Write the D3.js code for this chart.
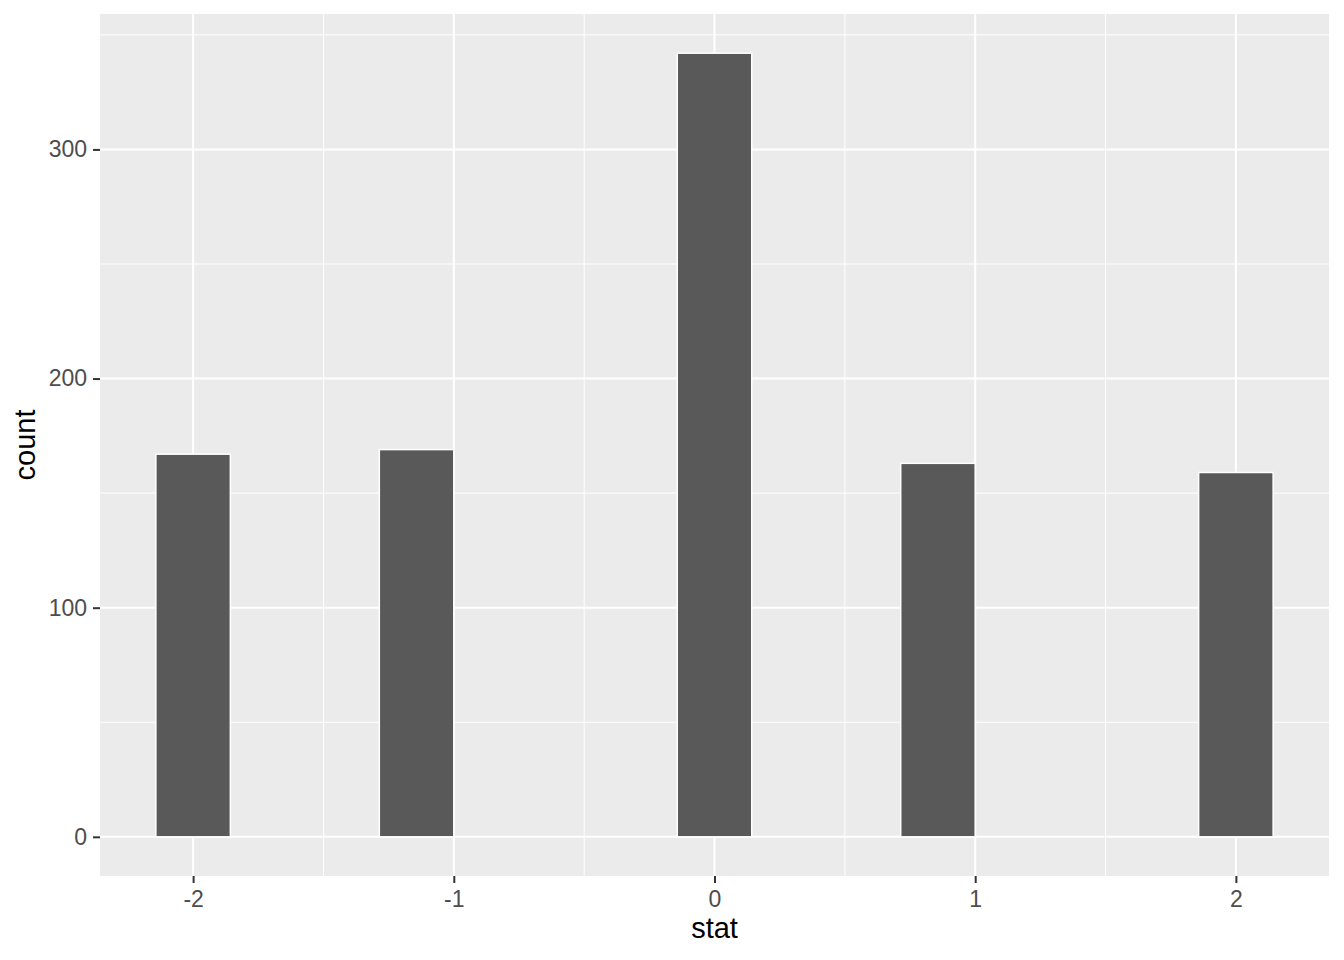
<!DOCTYPE html>
<html>
<head>
<meta charset="utf-8">
<script src="https://cdn.jsdelivr.net/npm/d3@7"></script>
<style>
  body { margin: 0; background: #fff; }
  text { font-family: "Liberation Sans", Arial, sans-serif; }
</style>
</head>
<body>
<div id="chart"></div>
<script>
"use strict";

// Size of SVG
const w = 1344;
const h = 960;

// Histogram data (15 bins over [-2, 2], right-closed; only non-empty ones listed)
const statValues = [-2, -1, 0, 1, 2];
const counts = [167, 169, 342, 163, 159];
const binCount = 15;
const statMin = -2, statMax = 2;
const binWidth = (statMax - statMin) / (binCount - 1);

// Axis ticks
const xTicks = [-2, -1, 0, 1, 2];
const xMinor = [-1.5, -0.5, 0.5, 1.5];
const yTicks = [0, 100, 200, 300];
const yMinor = [50, 150, 250, 350];

// Panel position
const panelLeft = 100, panelRight = 1329, panelTop = 14, panelBottom = 876;

// Bin centre of a value (ggplot bins are closed on the right)
function binCenter(v) {
	const k = Math.ceil((v - statMin) / binWidth - 0.5 - 1e-9);
	return statMin + k * binWidth;
}

// Scales with ggplot-like 5% expansion
const xLo = statMin - binWidth / 2, xHi = statMax + binWidth / 2;
const xPad = (xHi - xLo) * 0.05;
const x = d3.scaleLinear()
	.domain([xLo - xPad, xHi + xPad])
	.range([panelLeft, panelRight]);

const yMax = d3.max(counts);
const y = d3.scaleLinear()
	.domain([-yMax * 0.05, yMax * 1.05])
	.range([panelBottom, panelTop]);

const svg = d3.select("#chart")
	.append("svg")
	.attr("width", w)
	.attr("height", h);

// Panel background
svg.append("rect")
	.attr("x", panelLeft)
	.attr("y", panelTop)
	.attr("width", panelRight - panelLeft)
	.attr("height", panelBottom - panelTop)
	.attr("fill", "#EBEBEB");

// Minor grid
svg.selectAll(".xminor")
	.data(xMinor)
	.enter()
	.append("line")
	.attr("x1", d => x(d)).attr("x2", d => x(d))
	.attr("y1", panelTop).attr("y2", panelBottom)
	.attr("stroke", "#fff").attr("stroke-width", 1);

svg.selectAll(".yminor")
	.data(yMinor)
	.enter()
	.append("line")
	.attr("x1", panelLeft).attr("x2", panelRight)
	.attr("y1", d => y(d)).attr("y2", d => y(d))
	.attr("stroke", "#fff").attr("stroke-width", 1);

// Major grid
svg.selectAll(".xmajor")
	.data(xTicks)
	.enter()
	.append("line")
	.attr("x1", d => x(d)).attr("x2", d => x(d))
	.attr("y1", panelTop).attr("y2", panelBottom)
	.attr("stroke", "#fff").attr("stroke-width", 2);

svg.selectAll(".ymajor")
	.data(yTicks)
	.enter()
	.append("line")
	.attr("x1", panelLeft).attr("x2", panelRight)
	.attr("y1", d => y(d)).attr("y2", d => y(d))
	.attr("stroke", "#fff").attr("stroke-width", 2);

// Bars
svg.selectAll(".bar")
	.data(statValues)
	.enter()
	.append("rect")
	.attr("x", d => x(binCenter(d) - binWidth / 2))
	.attr("width", x(binWidth) - x(0))
	.attr("y", (d, i) => y(counts[i]))
	.attr("height", (d, i) => y(0) - y(counts[i]))
	.attr("fill", "#595959")
	.attr("stroke", "#fff")
	.attr("stroke-width", 1.5);

// X axis
const xAxis = svg.append("g")
	.attr("transform", `translate(0,${panelBottom})`)
	.call(d3.axisBottom(x).tickValues(xTicks).tickSize(7).tickPadding(8).tickFormat(d => String(d)));
xAxis.select(".domain").remove();
xAxis.selectAll("line").attr("stroke", "#333").attr("stroke-width", 2);
xAxis.selectAll("text")
	.attr("fill", "#4D4D4D")
	.style("font-size", "23px")
	.style("font-family", "'Liberation Sans', Arial, sans-serif");

// Y axis
const yAxis = svg.append("g")
	.attr("transform", `translate(${panelLeft},0)`)
	.call(d3.axisLeft(y).tickValues(yTicks).tickSize(7).tickPadding(6).tickFormat(d => String(d)));
yAxis.select(".domain").remove();
yAxis.selectAll("line").attr("stroke", "#333").attr("stroke-width", 2);
yAxis.selectAll("text")
	.attr("fill", "#4D4D4D")
	.style("font-size", "23px")
	.style("font-family", "'Liberation Sans', Arial, sans-serif");

// Axis titles
svg.append("text")
	.attr("x", (panelLeft + panelRight) / 2)
	.attr("y", 938)
	.attr("text-anchor", "middle")
	.style("font-size", "29px")
	.attr("fill", "#000")
	.text("stat");

svg.append("text")
	.attr("transform", `translate(35,${(panelTop + panelBottom) / 2}) rotate(-90)`)
	.attr("text-anchor", "middle")
	.style("font-size", "29px")
	.attr("fill", "#000")
	.text("count");
</script>
</body>
</html>
